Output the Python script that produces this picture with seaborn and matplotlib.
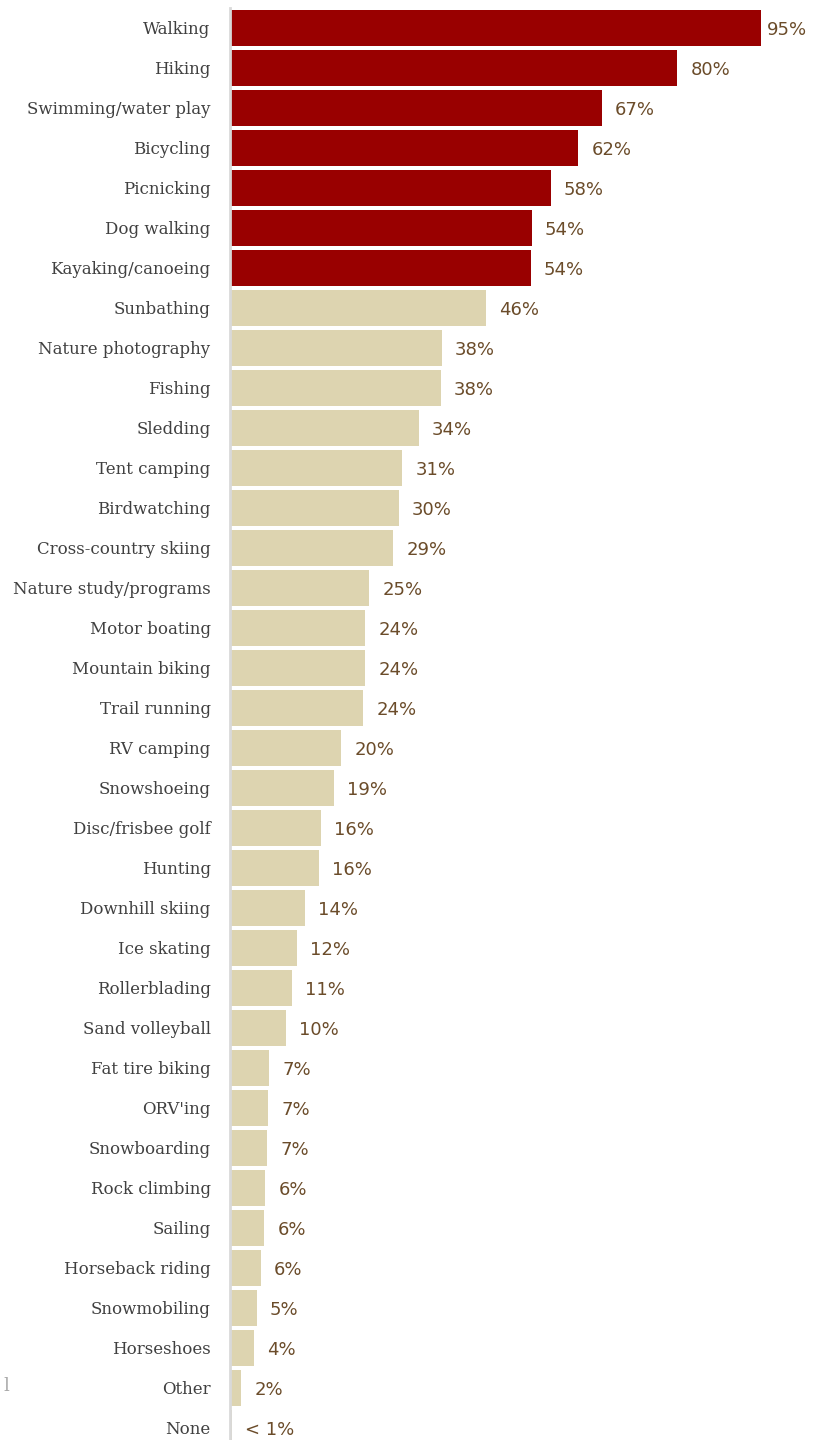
import pandas as pd
import matplotlib.pyplot as plt
import seaborn as sns

activities = [
    'Walking', 'Hiking', 'Swimming/water play', 'Bicycling', 'Picnicking',
    'Dog walking', 'Kayaking/canoeing', 'Sunbathing', 'Nature photography',
    'Fishing', 'Sledding', 'Tent camping', 'Birdwatching',
    'Cross-country skiing', 'Nature study/programs', 'Motor boating',
    'Mountain biking', 'Trail running', 'RV camping', 'Snowshoeing',
    'Disc/frisbee golf', 'Hunting', 'Downhill skiing', 'Ice skating',
    'Rollerblading', 'Sand volleyball', 'Fat tire biking', "ORV'ing",
    'Snowboarding', 'Rock climbing', 'Sailing', 'Horseback riding',
    'Snowmobiling', 'Horseshoes', 'Other', 'None',
]
values = [
    95.0, 80.0, 66.5, 62.3, 57.4, 54.0, 53.8, 45.8, 37.9, 37.7, 33.8, 30.8,
    30.2, 29.2, 24.9, 24.2, 24.2, 23.8, 19.9, 18.6, 16.3, 15.9, 13.4, 12.0,
    11.1, 10.0, 7.0, 6.8, 6.6, 6.3, 6.1, 5.5, 4.8, 4.3, 2.0, 0.3,
]
value_labels = [
    '95%', '80%', '67%', '62%', '58%', '54%', '54%', '46%', '38%', '38%',
    '34%', '31%', '30%', '29%', '25%', '24%', '24%', '24%', '20%', '19%',
    '16%', '16%', '14%', '12%', '11%', '10%', '7%', '7%', '7%', '6%', '6%',
    '6%', '5%', '4%', '2%', '< 1%',
]
top_n = 7

df = pd.DataFrame({'activity': activities, 'pct': values})
df['group'] = ['top' if i < top_n else 'rest' for i in range(len(df))]

fig = plt.figure(figsize=(8.2, 14.4), dpi=100)
ax = fig.add_axes([230 / 820, 0, 1 - 230 / 820, 1 - 8 / 1440])

sns.barplot(data=df, y='activity', x='pct', hue='group', orient='h',
            palette={'top': '#990000', 'rest': '#ddd4b0'}, width=0.9,
            dodge=False, legend=False, saturation=1, ax=ax)

for i, (v, lab) in enumerate(zip(values, value_labels)):
    # the longest bar's label sits closer to the bar end
    off = 4.5 if v > 90 else 9.5
    ax.annotate(lab, (v, i), xytext=(off, -1.5), textcoords='offset points',
                va='center', ha='left', fontsize=13, color='#6b4c2a',
                family='DejaVu Sans')

ax.set_xlim(0, 590 / 5.59)
ax.set_ylim(35.3, -0.5)
ax.set_xlabel('')
ax.set_ylabel('')
ax.set_xticks([])
ax.tick_params(axis='y', length=0, pad=14)
for t in ax.get_yticklabels():
    t.set_family('DejaVu Serif')
    t.set_fontsize(12)
    t.set_color('#404040')

for s in ['top', 'right', 'bottom']:
    ax.spines[s].set_visible(False)
ax.spines['left'].set_color('#d9d9d9')
ax.spines['left'].set_linewidth(2)
ax.set_facecolor('white')

fig.text(3 / 820, 1 - 1386 / 1440, 'l', family='DejaVu Serif', fontsize=13,
         color='#aaaaaa', va='center', ha='left')

fig.savefig('out.png', dpi=100, facecolor='white')
